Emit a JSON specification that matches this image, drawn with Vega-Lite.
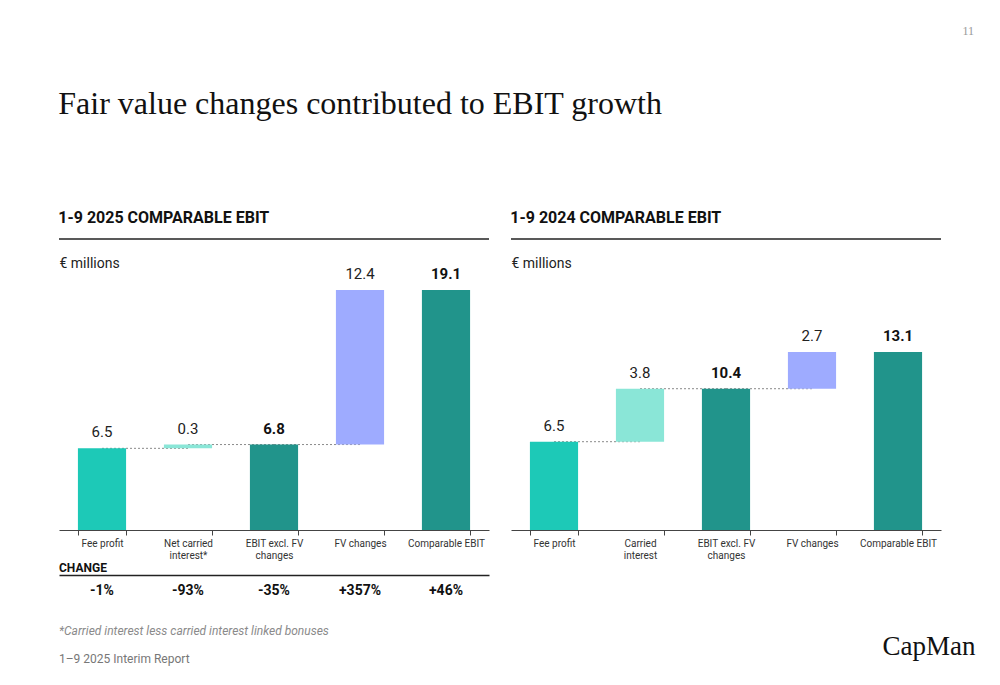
{
  "$schema": "https://vega.github.io/schema/vega-lite/v6.json",
  "background": "white",
  "padding": {"left": 58, "top": 25, "right": 0, "bottom": 0},
  "config": {
    "view": {"stroke": null},
    "font": "Liberation Sans Narrow, Roboto, sans-serif",
    "concat": {"spacing": 0}
  },
  "datasets": {
    "y2025": [
      {"step": "Fee profit", "type": "fee", "start": 0, "end": 6.5, "label": "6.5", "next": "Net carried interest*", "conn": 6.5, "change": "-1%"},
      {"step": "Net carried interest*", "type": "carried", "start": 6.5, "end": 6.8, "label": "0.3", "next": "EBIT excl. FV changes", "conn": 6.8, "change": "-93%"},
      {"step": "EBIT excl. FV changes", "type": "total", "start": 0, "end": 6.8, "label": "6.8", "next": "FV changes", "conn": 6.8, "change": "-35%"},
      {"step": "FV changes", "type": "fv", "start": 6.8, "end": 19.1, "label": "12.4", "next": null, "conn": null, "change": "+357%"},
      {"step": "Comparable EBIT", "type": "total", "start": 0, "end": 19.1, "label": "19.1", "next": null, "conn": null, "change": "+46%"}
    ],
    "y2024": [
      {"step": "Fee profit", "type": "fee", "start": 0, "end": 6.5, "label": "6.5", "next": "Carried interest", "conn": 6.5},
      {"step": "Carried interest", "type": "carried", "start": 6.5, "end": 10.4, "label": "3.8", "next": "EBIT excl. FV changes", "conn": 10.4},
      {"step": "EBIT excl. FV changes", "type": "total", "start": 0, "end": 10.4, "label": "10.4", "next": "FV changes", "conn": 10.4},
      {"step": "FV changes", "type": "fv", "start": 10.4, "end": 13.1, "label": "2.7", "next": null, "conn": null},
      {"step": "Comparable EBIT", "type": "total", "start": 0, "end": 13.1, "label": "13.1", "next": null, "conn": null}
    ]
  },
  "title": {"text": "11", "anchor": "end", "fontSize": 12, "fontWeight": "normal", "color": "#999999", "font": "Liberation Serif", "offset": 50, "dx": -5},
  "spacing": 18,
  "vconcat": [
    {
      "title": {"text": "Fair value changes contributed to EBIT growth", "anchor": "start", "font": "Liberation Serif", "fontSize": 32, "fontWeight": "normal", "color": "#111111", "offset": 89},
      "spacing": 20,
      "hconcat": [
        {
          "spacing": 2,
          "vconcat": [
            {
              "width": 430,
              "height": 291,
              "title": {"text": "1-9 2025 COMPARABLE EBIT", "anchor": "start", "fontSize": 16, "fontWeight": "bold", "color": "#111111", "offset": 12},
              "data": {"name": "y2025"},
              "layer": [
                {
                  "data": {"values": [{}]},
                  "mark": {"type": "rule", "color": "#222222", "strokeWidth": 1.5},
                  "encoding": {"y": {"datum": 23.16, "type": "quantitative"}}
                },
                {
                  "transform": [{"filter": "datum.next != null"}],
                  "mark": {"type": "rule", "color": "#8a8a8a", "strokeWidth": 1, "strokeDash": [2, 2]},
                  "encoding": {
                    "x": {"field": "step", "type": "nominal"},
                    "x2": {"field": "next"},
                    "y": {"field": "conn", "type": "quantitative"}
                  }
                },
                {
                  "mark": {"type": "bar"},
                  "encoding": {
                    "x": {
                      "field": "step", "type": "nominal",
                      "scale": {"domain": ["Fee profit", "Net carried interest*", "EBIT excl. FV changes", "FV changes", "Comparable EBIT"], "paddingInner": 0.44, "paddingOuter": 0.22},
                      "axis": {"title": null, "domain": true, "domainColor": "#444444", "ticks": true, "tickBand": "extent", "tickColor": "#444444", "tickSize": 5, "labelAngle": 0, "labelAlign": "center", "labelFontSize": 10, "labelColor": "#333333", "labelPadding": 3, "labelLineHeight": 12, "labelBaseline": "top",
                        "labelExpr": "datum.value == 'Net carried interest*' ? ['Net carried', 'interest*'] : datum.value == 'EBIT excl. FV changes' ? ['EBIT excl. FV', 'changes'] : datum.value"}
                    },
                    "y": {
                      "field": "start", "type": "quantitative",
                      "scale": {"domain": [0, 23.16], "nice": false},
                      "axis": {"title": "€ millions", "domain": false, "ticks": false, "labels": false, "grid": false, "minExtent": 0, "maxExtent": 0, "titleAngle": 0, "titleAlign": "left", "titleBaseline": "middle", "titleX": 0, "titleY": 24, "titleFontSize": 14, "titleFontWeight": "normal", "titleColor": "#222222"}
                    },
                    "y2": {"field": "end"},
                    "color": {"field": "type", "type": "nominal", "scale": {"domain": ["fee", "carried", "total", "fv"], "range": ["#1dc9b7", "#8ae6d7", "#21948b", "#9eabff"]}, "legend": null}
                  }
                },
                {
                  "transform": [{"filter": "datum.type != 'total'"}],
                  "mark": {"type": "text", "fontSize": 15, "color": "#222222", "baseline": "alphabetic", "dy": -11},
                  "encoding": {
                    "x": {"field": "step", "type": "nominal"},
                    "y": {"field": "end", "type": "quantitative"},
                    "text": {"field": "label"}
                  }
                },
                {
                  "transform": [{"filter": "datum.type == 'total'"}],
                  "mark": {"type": "text", "fontSize": 15, "fontWeight": "bold", "color": "#111111", "baseline": "alphabetic", "dy": -11},
                  "encoding": {
                    "x": {"field": "step", "type": "nominal"},
                    "y": {"field": "end", "type": "quantitative"},
                    "text": {"field": "label"}
                  }
                }
              ]
            },
            {
              "width": 430,
              "height": 32,
              "title": {"text": "CHANGE", "anchor": "start", "fontSize": 12, "fontWeight": "bold", "color": "#111111", "offset": 0},
              "data": {"name": "y2025"},
              "mark": {"type": "text", "fontSize": 14, "fontWeight": "bold", "color": "#111111"},
              "encoding": {
                "x": {
                  "field": "step", "type": "nominal",
                  "scale": {"domain": ["Fee profit", "Net carried interest*", "EBIT excl. FV changes", "FV changes", "Comparable EBIT"], "paddingInner": 0.44, "paddingOuter": 0.22},
                  "axis": {"orient": "top", "title": null, "labels": false, "ticks": false, "domain": true, "domainColor": "#222222", "domainWidth": 1.5}
                },
                "text": {"field": "change"}
              }
            }
          ]
        },
        {
          "width": 430,
          "height": 291,
          "title": {"text": "1-9 2024 COMPARABLE EBIT", "anchor": "start", "fontSize": 16, "fontWeight": "bold", "color": "#111111", "offset": 12},
          "data": {"name": "y2024"},
          "layer": [
            {
              "data": {"values": [{}]},
              "mark": {"type": "rule", "color": "#222222", "strokeWidth": 1.5},
              "encoding": {"y": {"datum": 21.42, "type": "quantitative"}}
            },
            {
              "transform": [{"filter": "datum.next != null"}],
              "mark": {"type": "rule", "color": "#8a8a8a", "strokeWidth": 1, "strokeDash": [2, 2]},
              "encoding": {
                "x": {"field": "step", "type": "nominal"},
                "x2": {"field": "next"},
                "y": {"field": "conn", "type": "quantitative"}
              }
            },
            {
              "mark": {"type": "bar"},
              "encoding": {
                "x": {
                  "field": "step", "type": "nominal",
                  "scale": {"domain": ["Fee profit", "Carried interest", "EBIT excl. FV changes", "FV changes", "Comparable EBIT"], "paddingInner": 0.44, "paddingOuter": 0.22},
                  "axis": {"title": null, "domain": true, "domainColor": "#444444", "ticks": true, "tickBand": "extent", "tickColor": "#444444", "tickSize": 5, "labelAngle": 0, "labelAlign": "center", "labelFontSize": 10, "labelColor": "#333333", "labelPadding": 3, "labelLineHeight": 12, "labelBaseline": "top",
                    "labelExpr": "datum.value == 'Carried interest' ? ['Carried', 'interest'] : datum.value == 'EBIT excl. FV changes' ? ['EBIT excl. FV', 'changes'] : datum.value"}
                },
                "y": {
                  "field": "start", "type": "quantitative",
                  "scale": {"domain": [0, 21.42], "nice": false},
                  "axis": {"title": "€ millions", "domain": false, "ticks": false, "labels": false, "grid": false, "minExtent": 0, "maxExtent": 0, "titleAngle": 0, "titleAlign": "left", "titleBaseline": "middle", "titleX": 0, "titleY": 24, "titleFontSize": 14, "titleFontWeight": "normal", "titleColor": "#222222"}
                },
                "y2": {"field": "end"},
                "color": {"field": "type", "type": "nominal", "scale": {"domain": ["fee", "carried", "total", "fv"], "range": ["#1dc9b7", "#8ae6d7", "#21948b", "#9eabff"]}, "legend": null}
              }
            },
            {
              "transform": [{"filter": "datum.type != 'total'"}],
              "mark": {"type": "text", "fontSize": 15, "color": "#222222", "baseline": "alphabetic", "dy": -11},
              "encoding": {
                "x": {"field": "step", "type": "nominal"},
                "y": {"field": "end", "type": "quantitative"},
                "text": {"field": "label"}
              }
            },
            {
              "transform": [{"filter": "datum.type == 'total'"}],
              "mark": {"type": "text", "fontSize": 15, "fontWeight": "bold", "color": "#111111", "baseline": "alphabetic", "dy": -11},
              "encoding": {
                "x": {"field": "step", "type": "nominal"},
                "y": {"field": "end", "type": "quantitative"},
                "text": {"field": "label"}
              }
            }
          ]
        }
      ]
    },
    {
      "hconcat": [
        {
          "width": 820,
          "height": 2,
          "title": {"text": "*Carried interest less carried interest linked bonuses", "subtitle": "1–9 2025 Interim Report", "anchor": "start", "fontSize": 12, "fontStyle": "italic", "fontWeight": "normal", "color": "#8a8a8a", "subtitleFontSize": 12, "subtitleColor": "#777777", "subtitleFontStyle": "normal", "subtitlePadding": 16, "offset": 0},
          "data": {"values": [{}]},
          "mark": {"type": "text"},
          "encoding": {"text": {"value": ""}}
        },
        {
          "width": 100,
          "height": 2,
          "data": {"values": [{"brand": "CapMan"}]},
          "mark": {"type": "text", "font": "Liberation Serif", "fontSize": 27, "color": "#111111", "dy": -25},
          "encoding": {"text": {"field": "brand"}}
        }
      ]
    }
  ]
}
